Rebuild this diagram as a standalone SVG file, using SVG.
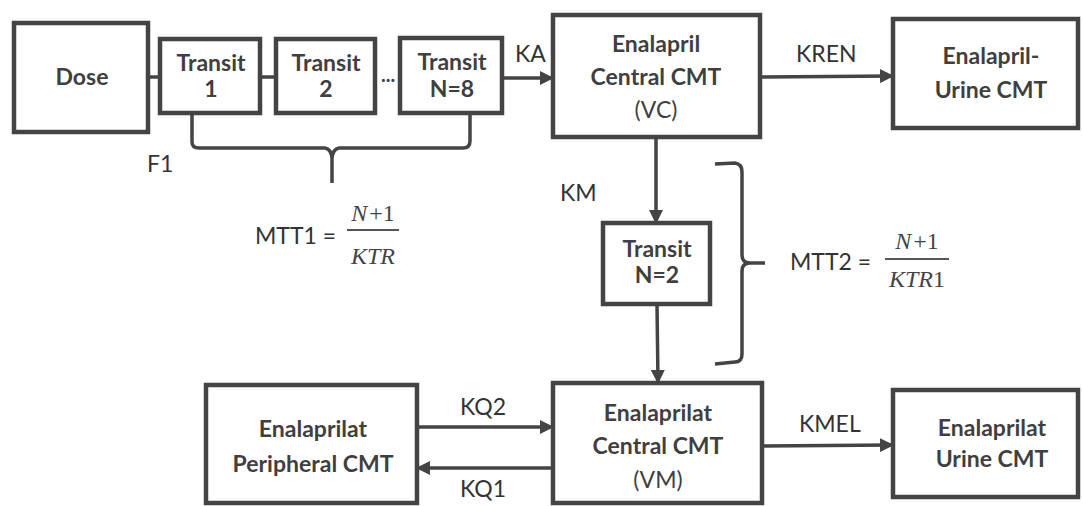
<svg xmlns="http://www.w3.org/2000/svg" width="1083" height="506" viewBox="0 0 1083 506">
<defs>
<style>
.box{fill:#fff;stroke:#444;stroke-width:4.5}
.ln{fill:none;stroke:#444;stroke-width:3.5}
.br{fill:none;stroke:#444;stroke-width:3.5;stroke-linejoin:round}
.t{font-family:Lato,"Open Sans","Liberation Sans",sans-serif;font-weight:bold;font-size:23px;fill:#3f3f3f;text-anchor:middle}
.lb{font-family:Lato,"Open Sans","Liberation Sans",sans-serif;font-size:23px;fill:#333}
.m{font-family:"Liberation Serif","DejaVu Serif",serif;font-size:24px;fill:#444;text-anchor:middle}
</style>
<marker id="ah" markerUnits="userSpaceOnUse" markerWidth="14" markerHeight="14" viewBox="0 0 14 14" refX="13" refY="7" orient="auto">
<path d="M0,0 L14,7 L0,14 Z" fill="#444"/>
</marker>
</defs>
<rect width="1083" height="506" fill="#fff"/>
<g id="connectors">
<line class="ln" x1="148" y1="77" x2="160" y2="77"/>
<line class="ln" x1="260" y1="77" x2="276" y2="77"/>
<text class="t" x="388" y="82" style="font-size:20px">...</text>
<line class="ln" x1="502" y1="78" x2="553" y2="78" marker-end="url(#ah)"/>
<line class="ln" x1="760" y1="77" x2="893" y2="76" marker-end="url(#ah)"/>
<line class="ln" x1="656" y1="137" x2="656" y2="223" marker-end="url(#ah)"/>
<line class="ln" x1="657" y1="304" x2="658" y2="383" marker-end="url(#ah)"/>
<line class="ln" x1="417" y1="427" x2="553" y2="427" marker-end="url(#ah)"/>
<line class="ln" x1="553" y1="468" x2="417" y2="468" marker-end="url(#ah)"/>
<line class="ln" x1="762" y1="446" x2="893" y2="445" marker-end="url(#ah)"/>
<path class="br" d="M192,113 L192,142 Q192,148 199,148 L325,148 Q331,149 332,158 L332,183 M332,158 Q333,149 339,148 L463,148 Q470,148 470,141 L470,113"/>
<path class="br" d="M715,164 L735,163 Q742,164 742,172 L742,255 Q742,263 750,263 L765,263 M750,263 Q742,263 742,271 L742,354 Q742,362 735,362 L715,364"/>
<text class="lb" x="515" y="62">KA</text>
<text class="lb" x="796" y="62">KREN</text>
<text class="lb" x="147" y="172">F1</text>
<text class="lb" x="560" y="201">KM</text>
<text class="lb" x="460" y="415">KQ2</text>
<text class="lb" x="460" y="497">KQ1</text>
<text class="lb" x="799" y="432">KMEL</text>
</g>
<g id="mtt1">
<text class="lb" x="255" y="244">MTT1 =</text>
<text class="m" x="373" y="221"><tspan font-style="italic">N</tspan><tspan dx="2">+</tspan><tspan>1</tspan></text>
<line x1="347" y1="230" x2="399" y2="230" stroke="#555" stroke-width="2"/>
<text class="m" x="373" y="264" font-style="italic">KTR</text>
</g>
<g id="mtt2">
<text class="lb" x="790" y="270">MTT2 =</text>
<text class="m" x="917" y="249"><tspan font-style="italic">N</tspan><tspan dx="2">+</tspan><tspan>1</tspan></text>
<line x1="885" y1="259" x2="949" y2="259" stroke="#555" stroke-width="2"/>
<text class="m" x="917" y="287"><tspan font-style="italic">KTR</tspan>1</text>
</g>
<g id="dose">
<rect class="box" x="14" y="23" width="134" height="109"/>
<text class="t" x="82" y="85">Dose</text>
</g>
<g id="transit1">
<rect class="box" x="160" y="39" width="100" height="74"/>
<text class="t" x="211" y="71">Transit</text>
<text class="t" x="211" y="97">1</text>
</g>
<g id="transit2">
<rect class="box" x="276" y="39" width="99" height="74"/>
<text class="t" x="326" y="71">Transit</text>
<text class="t" x="326" y="97">2</text>
</g>
<g id="transitN8">
<rect class="box" x="400" y="38" width="102" height="75"/>
<text class="t" x="452" y="70">Transit</text>
<text class="t" x="452" y="97">N=8</text>
</g>
<g id="enalaprilCentral">
<rect class="box" x="553" y="15" width="207" height="122"/>
<text class="t" x="656" y="52">Enalapril</text>
<text class="t" x="656" y="85">Central CMT</text>
<text class="t" x="656" y="118" style="font-weight:normal">(VC)</text>
</g>
<g id="enalaprilUrine">
<rect class="box" x="893" y="19" width="185" height="109"/>
<text class="t" x="991" y="64">Enalapril-</text>
<text class="t" x="991" y="98">Urine CMT</text>
</g>
<g id="transitN2">
<rect class="box" x="603" y="223" width="107" height="81"/>
<text class="t" x="657" y="257">Transit</text>
<text class="t" x="657" y="283">N=2</text>
</g>
<g id="enalaprilatPeripheral">
<rect class="box" x="206" y="385" width="211" height="118"/>
<text class="t" x="313" y="437">Enalaprilat</text>
<text class="t" x="313" y="472">Peripheral CMT</text>
</g>
<g id="enalaprilatCentral">
<rect class="box" x="553" y="383" width="209" height="120"/>
<text class="t" x="658" y="421">Enalaprilat</text>
<text class="t" x="658" y="454">Central CMT</text>
<text class="t" x="658" y="488" style="font-weight:normal">(VM)</text>
</g>
<g id="enalaprilatUrine">
<rect class="box" x="893" y="390" width="185" height="107"/>
<text class="t" x="992" y="436">Enalaprilat</text>
<text class="t" x="992" y="467">Urine CMT</text>
</g>
</svg>
